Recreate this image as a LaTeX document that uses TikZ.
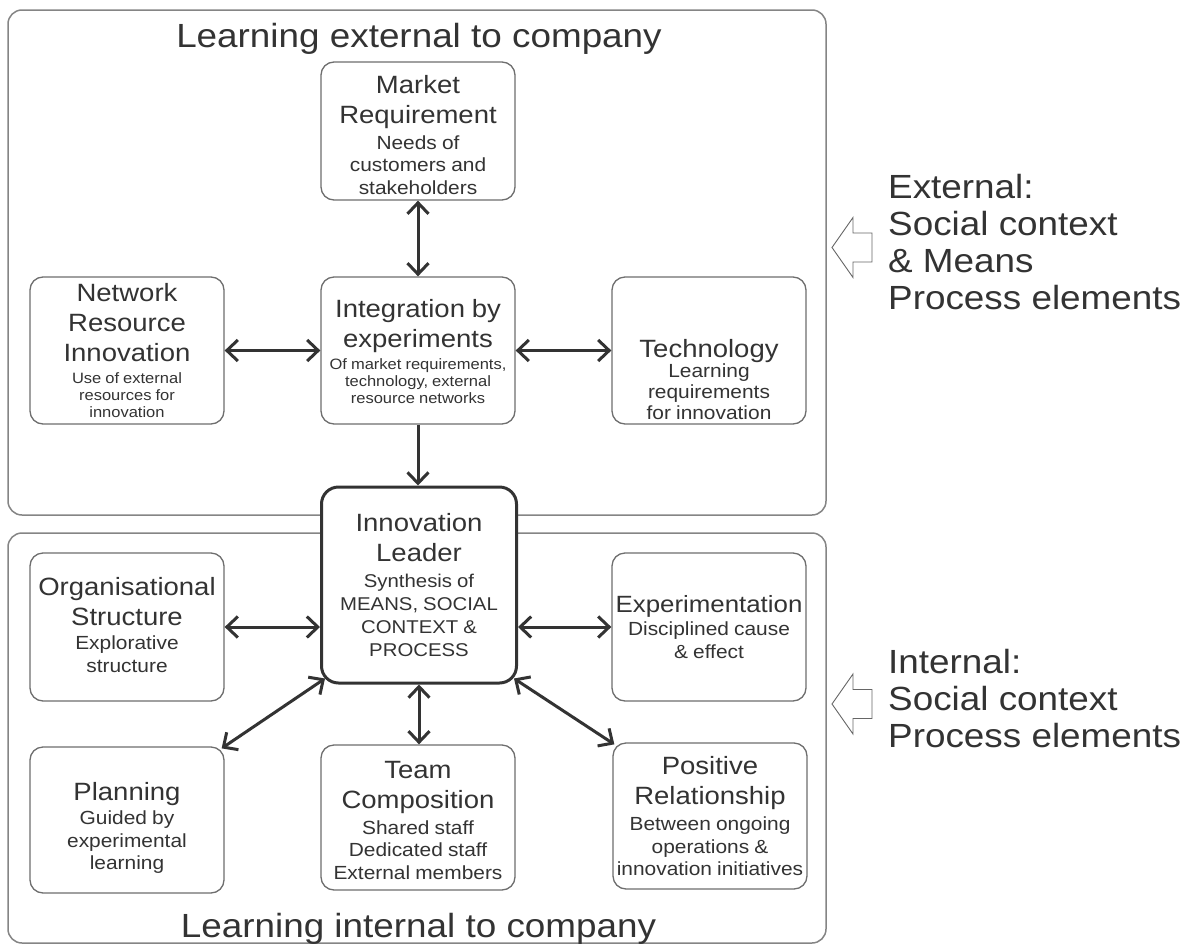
\documentclass[tikz,border=0pt]{standalone}
\usepackage{fontspec}
\setmainfont{Liberation Sans}[FakeStretch=1.1]
\usetikzlibrary{arrows.meta,calc}
\definecolor{txt}{HTML}{333333}
\definecolor{bxl}{HTML}{6E6E6E}
\definecolor{outl}{HTML}{858585}
\definecolor{arrc}{HTML}{333333}
\definecolor{holc}{HTML}{666666}
\newcommand\sz[2]{\fontsize{#1}{#2}\selectfont\spaceskip=0.27em\relax}
\newcommand\ttlf{\sz{25}{30}}
\newcommand\subf{\sz{19}{22.5}}
\newcommand\smlf{\sz{15}{17.4}}
\newcommand\bigf{\fontsize{33.5}{37}\selectfont}
\newcommand\bxt[4]{{\ttlf #1\par}\vspace{#4}{#2#3\par}}
\tikzset{
  box/.style={draw=bxl, line width=1.3pt, rounded corners=13pt, fill=white,
    minimum width=194pt, minimum height=147pt, inner sep=0pt},
  boxtxt/.style={text width=190pt, align=center, inner sep=0pt, text=txt},
  leadbox/.style={box, draw=arrc, line width=3pt, rounded corners=17pt,
    minimum width=195pt, minimum height=196pt},
  outerbox/.style={draw=outl, line width=1.5pt, rounded corners=14pt,
    inner sep=0pt, minimum width=818pt},
  dbl/.style={draw=arrc, line width=3pt,
    {Straight Barb[length=11pt,width=21pt]}-{Straight Barb[length=11pt,width=21pt]}},
  sgl/.style={draw=arrc, line width=3pt, -{Straight Barb[length=11pt,width=21pt]}},
  hollow/.style={draw=holc, line width=0.9pt, fill=white},
  sidetxt/.style={anchor=base west, inner sep=0pt, text=txt, font=\bigf},
  ttltxt/.style={anchor=base, inner sep=0pt, text=txt, font=\bigf}
}
\begin{document}
\begin{tikzpicture}[x=1pt,y=-1pt]
\fill[white] (0,0) rectangle (1189,945);
\useasboundingbox (0,0) rectangle (1189,945);

% outer containers
\node[outerbox, minimum height=505pt] (extbox) at (417,262.5) {};
\node[outerbox, minimum height=410pt] (intbox) at (417,738) {};

\node[ttltxt] (exttitle) at (419,47) {Learning external to company};
\node[ttltxt] (inttitle) at (418.5,937) {Learning internal to company};

% boxes
\node[box, minimum height=138pt] (mkt) at (418,131) {};
\node[box] (net) at (127,350.5) {};
\node[box] (integ) at (418,350.5) {};
\node[box] (tech) at (709,350.5) {};
\node[leadbox] (lead) at (419,585) {};
\node[box, minimum height=148pt] (org) at (127,627) {};
\node[box, minimum height=148pt] (exper) at (709,627) {};
\node[box, minimum height=146pt] (plan) at (127,820) {};
\node[box, minimum height=145pt] (team) at (418,817.5) {};
\node[box, minimum height=146pt] (pos) at (710,816) {};

% box texts
\node[boxtxt] (mkttxt) at ($(mkt)+(0,4)$)
  {\bxt{Market\\Requirement}{\subf}{Needs of\\customers and\\stakeholders}{3pt}};
\node[boxtxt] (nettxt) at (net)
  {\bxt{Network\\Resource\\Innovation}{\smlf}{Use of external\\resources for\\innovation}{4.5pt}};
\node[boxtxt] (integtxt) at ($(integ)+(0,1)$)
  {\bxt{Integration by\\experiments}{\smlf}{Of market requirements,\\technology, external\\resource networks}{4.5pt}};
\node[boxtxt, anchor=north] (techtxt) at ($(tech.center)+(0,-11.7)$)
  {\bxt{Technology}{\sz{19}{21}}{Learning\\requirements\\for innovation}{-1pt}};
\node[boxtxt] (leadtxt) at (lead)
  {\bxt{Innovation\\Leader}{\sz{18.5}{23}}{Synthesis of\\MEANS, SOCIAL\\CONTEXT \&\\PROCESS}{2.5pt}};
\node[boxtxt] (orgtxt) at ($(org)+(0,-2)$)
  {\bxt{Organisational\\Structure}{\subf}{Explorative\\structure}{2pt}};
\node[boxtxt] (expertxt) at (exper)
  {\bxt{{\sz{23.5}{28}Experimentation}}{\subf}{Disciplined cause\\\& effect}{1pt}};
\node[boxtxt] (plantxt) at ($(plan)+(0,8)$)
  {\bxt{Planning}{\subf}{Guided by\\experimental\\learning}{2pt}};
\node[boxtxt] (teamtxt) at ($(team)+(0,3)$)
  {\bxt{Team\\Composition}{\subf}{Shared staff\\Dedicated staff\\External members}{3pt}};
\node[boxtxt] (postxt) at (pos)
  {\bxt{Positive\\Relationship}{\subf}{Between ongoing\\operations \&\\innovation initiatives}{4pt}};

% connectors
\draw[dbl] (mkt.south) -- (integ.north);
\draw[dbl] (net.east) -- (integ.west);
\draw[dbl] (integ.east) -- (tech.west);
\draw[sgl] (integ.south) -- (integ.south |- lead.north);
\draw[dbl] (org.east) -- (org.east -| lead.west);
\draw[dbl] (lead.east |- exper.west) -- (exper.west);
\draw[dbl] (lead.south) -- (lead.south |- team.north);
\draw[dbl] ($(lead.south west)+(5,-6)$) -- ($(plan.north east)+(-3,2)$);
\draw[dbl] ($(lead.south east)+(-4,-6)$) -- ($(pos.north west)+(2,2)$);

% side block arrows and texts
\draw[hollow] (832,247.5) -- (853,217.5) -- (853,233) -- (872,233) -- (872,262)
  -- (853,262) -- (853,277.5) -- cycle;
\draw[hollow] (832,704) -- (853,674) -- (853,689.5) -- (872,689.5) -- (872,718.5)
  -- (853,718.5) -- (853,734) -- cycle;

\node[sidetxt] (exttxt) at (888,198)
  {\begin{tabular}[t]{@{}l@{}}External:\\Social context\\\& Means\\Process elements\end{tabular}};
\node[sidetxt] (inttxt) at (888,673)
  {\begin{tabular}[t]{@{}l@{}}Internal:\\Social context\\Process elements\end{tabular}};
\end{tikzpicture}
\end{document}
